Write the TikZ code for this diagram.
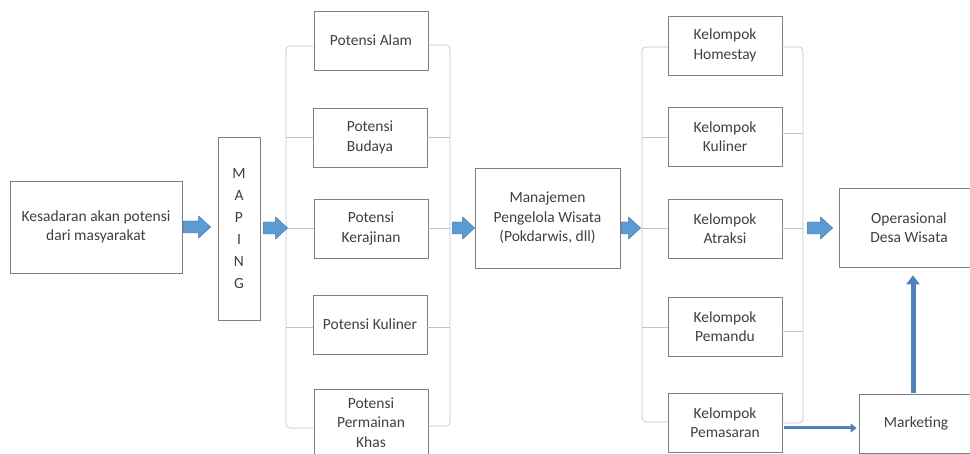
\documentclass[tikz,border=0pt]{standalone}
\usepackage{fontspec}
\setmainfont{Carlito}
\usetikzlibrary{calc,arrows.meta}
\definecolor{txt}{HTML}{404040}
\definecolor{boxc}{HTML}{808080}
\definecolor{brkc}{HTML}{B4C8D6}
\definecolor{afill}{HTML}{5B9BD5}
\definecolor{aedge}{HTML}{41719C}
\definecolor{lineb}{HTML}{4F81BD}
\begin{document}
\begin{tikzpicture}[x=1pt,y=-1pt,
 box/.style={draw=boxc, line width=0.7pt, text=txt, align=center, inner sep=2pt, font=\fontsize{15.5}{19.5}\selectfont},
 pbox/.style={box, minimum width=114pt, minimum height=59pt},
 brk/.style={draw=brkc, line width=0.7pt, rounded corners=4pt},
 fat/.style={fill=afill, draw=aedge, line width=0.4pt, to path={let \p1=(\tikztostart), \p2=(\tikztotarget) in (\x1,\y1+6pt) -- (\x2-12pt,\y1+6pt) -- (\x2-12pt,\y1+11pt) -- (\x2,\y1) -- (\x2-12pt,\y1-11pt) -- (\x2-12pt,\y1-6pt) -- (\x1,\y1-6pt) -- cycle}},
 thinarrow/.style={draw=lineb, line width=3pt, -{Triangle[length=6pt,width=9pt]}},
 uparrow/.style={draw=lineb, line width=5pt, -{Triangle[length=9pt,width=13pt]}}
 ]
\fill[white] (0,0) rectangle (970,454);
\useasboundingbox (0,0) rectangle (970,454);

% nodes
\node[box, minimum width=172pt, minimum height=92pt] (kes) at (96,227) {Kesadaran akan potensi\\dari masyarakat};
\node[box, minimum width=42pt, minimum height=183pt, font=\fontsize{15.5}{22}\selectfont] (map) at (239,228.5) {M\\A\\P\\I\\N\\G};

\node[pbox] (alam) at (371,40.5) {Potensi Alam};
\node[pbox] (bud) at (370,137.5) {Potensi\\Budaya};
\node[pbox] (ker) at (371,228.5) {Potensi\\Kerajinan};
\node[pbox] (kul) at (370,324.5) {Potensi Kuliner};
\node[pbox, minimum height=67pt] (perm) at (371,422.5) {Potensi\\Permainan\\Khas};

\node[box, minimum width=145pt, minimum height=100pt] (man) at (547.5,218) {Manajemen\\Pengelola Wisata\\(Pokdarwis, dll)};

\node[pbox] (home) at (725,45.5) {Kelompok\\Homestay};
\node[pbox] (kulk) at (725,136.5) {Kelompok\\Kuliner};
\node[pbox] (atr) at (725,228.5) {Kelompok\\Atraksi};
\node[pbox] (pem) at (725,326.5) {Kelompok\\Pemandu};
\node[pbox] (pms) at (725,422.5) {Kelompok\\Pemasaran};

\node[box, minimum width=140pt, minimum height=79pt] (ops) at (909,227.5) {Operasional\\Desa Wisata};
\node[box, minimum width=114pt, minimum height=59pt] (mkt) at (916,423.5) {Marketing};

% brackets, potensi
\draw[brk] (alam.west |- 0,46) -- (286,46) -- (286,428) -- (perm.west |- 0,428);
\draw[brk] (286,137) -- (bud.west |- 0,137);
\draw[brk] (286,228) -- (ker.west |- 0,228);
\draw[brk] (286,327) -- (kul.west |- 0,327);
\draw[brk] (alam.east |- 0,45) -- (450,45) -- (450,426) -- (perm.east |- 0,426);
\draw[brk] (450,137) -- (bud.east |- 0,137);
\draw[brk] (450,228) -- (ker.east |- 0,228);
\draw[brk] (450,327) -- (kul.east |- 0,327);

% brackets, kelompok
\draw[brk] (home.west |- 0,47) -- (642,47) -- (642,422) -- (pms.west |- 0,422);
\draw[brk] (642,137) -- (kulk.west |- 0,137);
\draw[brk] (642,228) -- (atr.west |- 0,228);
\draw[brk] (642,327) -- (pem.west |- 0,327);
\draw[brk] (home.east |- 0,47) -- (803,47) -- (803,423) -- (pms.east |- 0,423);
\draw[brk] (803,133) -- (kulk.east |- 0,133);
\draw[brk] (803,228) -- (atr.east |- 0,228);
\draw[brk] (803,331) -- (pem.east |- 0,331);

% block arrows
\draw[fat] ($(kes.east)+(1,0)$) to ($(map.west)+(-7,0)$);
\draw[fat] ($(map.east)+(3,-0.5)$) to ($(ker.west)+(-26,0)$);
\draw[fat] ($(ker.east)+(24,-0.5)$) to ($(man.west)+(0,10)$);
\draw[fat] ($(man.east)+(1,10)$) to ($(atr.west)+(-27,0)$);
\draw[fat] ($(atr.east)+(25,-0.5)$) to ($(ops.west)+(-6,0)$);

% line arrows
\draw[thinarrow] ($(pms.east)+(2,5.5)$) -- ($(mkt.west)+(-2,4.5)$);
\draw[uparrow] ($(mkt.north)+(-3,-1)$) -- ($(ops.south)+(4,8)$);
\end{tikzpicture}
\end{document}
